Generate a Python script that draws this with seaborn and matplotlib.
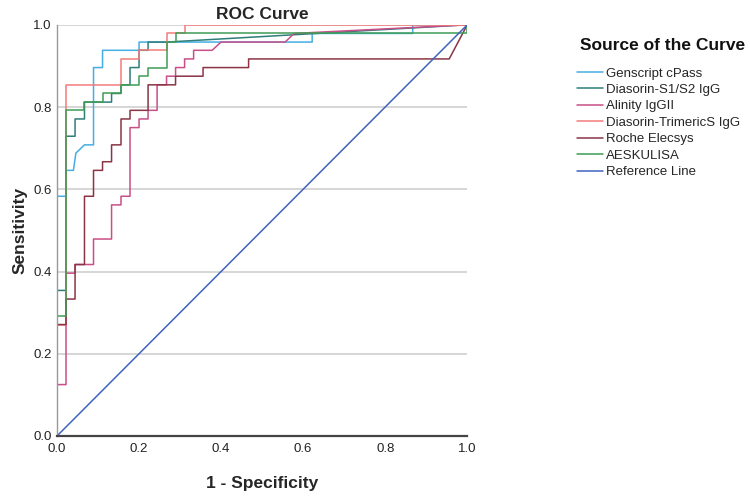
import matplotlib
matplotlib.use("Agg")
import matplotlib.pyplot as plt
import pandas as pd
import seaborn as sns

# ROC points (1 - specificity, sensitivity)
genscript_fpr = [0, 0, 0.022, 0.022, 0.04, 0.046, 0.067, 0.089, 0.089, 0.111, 0.111, 0.2, 0.2, 0.622, 0.622, 0.867, 0.867, 1]
genscript_tpr = [0, 0.583, 0.583, 0.646, 0.646, 0.688, 0.708, 0.708, 0.896, 0.896, 0.938, 0.938, 0.958, 0.958, 0.979, 0.979, 1, 1]

s1s2_fpr = [0, 0, 0.022, 0.022, 0.044, 0.044, 0.067, 0.067, 0.133, 0.133, 0.156, 0.156, 0.178, 0.178, 0.2, 0.2, 0.222, 0.222, 0.267, 1]
s1s2_tpr = [0, 0.354, 0.354, 0.729, 0.729, 0.771, 0.771, 0.812, 0.812, 0.833, 0.833, 0.854, 0.854, 0.896, 0.896, 0.938, 0.938, 0.958, 0.958, 1]

alinity_fpr = [0, 0, 0.022, 0.022, 0.044, 0.044, 0.089, 0.089, 0.133, 0.133, 0.156, 0.156, 0.178, 0.178, 0.2, 0.2,
               0.222, 0.222, 0.244, 0.244, 0.267, 0.267, 0.289, 0.289, 0.311, 0.311, 0.333, 0.333, 0.378, 0.4, 0.556, 0.578, 1]
alinity_tpr = [0, 0.125, 0.125, 0.396, 0.396, 0.417, 0.417, 0.479, 0.479, 0.562, 0.562, 0.583, 0.583, 0.75, 0.75, 0.771,
               0.771, 0.792, 0.792, 0.854, 0.854, 0.875, 0.875, 0.896, 0.896, 0.917, 0.917, 0.938, 0.938, 0.958, 0.958, 0.979, 1]

trimeric_fpr = [0, 0, 0.022, 0.022, 0.156, 0.156, 0.2, 0.2, 0.267, 0.267, 0.311, 0.311, 1]
trimeric_tpr = [0, 0.271, 0.271, 0.854, 0.854, 0.917, 0.917, 0.938, 0.938, 0.979, 0.979, 1, 1]

roche_fpr = [0, 0, 0.022, 0.022, 0.044, 0.044, 0.067, 0.067, 0.089, 0.089, 0.111, 0.111, 0.133, 0.133, 0.156, 0.156,
             0.178, 0.178, 0.222, 0.222, 0.289, 0.289, 0.356, 0.356, 0.467, 0.467, 0.956, 1]
roche_tpr = [0, 0.271, 0.271, 0.333, 0.333, 0.417, 0.417, 0.583, 0.583, 0.646, 0.646, 0.667, 0.667, 0.708, 0.708, 0.771,
             0.771, 0.792, 0.792, 0.854, 0.854, 0.875, 0.875, 0.896, 0.896, 0.917, 0.917, 1]

aesku_fpr = [0, 0, 0.022, 0.022, 0.067, 0.067, 0.111, 0.111, 0.156, 0.156, 0.2, 0.2, 0.222, 0.222, 0.267, 0.267, 0.289, 0.289, 1, 1]
aesku_tpr = [0, 0.292, 0.292, 0.792, 0.792, 0.812, 0.812, 0.833, 0.833, 0.854, 0.854, 0.875, 0.875, 0.896, 0.896, 0.958, 0.958, 0.979, 0.979, 1]

ref_fpr = [0, 1]
ref_tpr = [0, 1]

names = ["Genscript cPass", "Diasorin-S1/S2 IgG", "Alinity IgGII", "Diasorin-TrimericS IgG",
         "Roche Elecsys", "AESKULISA", "Reference Line"]
colors = ["#45aee3", "#2e7e7a", "#c84f88", "#f27b7b", "#8a3546", "#3f9d55", "#3f63bf"]

curves = [(genscript_fpr, genscript_tpr), (s1s2_fpr, s1s2_tpr), (alinity_fpr, alinity_tpr),
          (trimeric_fpr, trimeric_tpr), (roche_fpr, roche_tpr), (aesku_fpr, aesku_tpr), (ref_fpr, ref_tpr)]

frames = []
for name, (fx, ty) in zip(names, curves):
    frames.append(pd.DataFrame({"fpr": fx, "tpr": ty, "source": name}))
df = pd.concat(frames, ignore_index=True)

sns.set_style("white")
plt.rcParams["font.family"] = ["Liberation Sans", "DejaVu Sans"]

fig = plt.figure(figsize=(7.5, 4.96), dpi=100)
ax = fig.add_axes([0.076, 0.121, 0.547, 0.829])

for y in [0.2, 0.4, 0.6, 0.8, 1.0]:
    ax.axhline(y, color="#cccccc", lw=1.1, zorder=0)

sns.lineplot(data=df, x="fpr", y="tpr", hue="source", hue_order=names, palette=colors,
             sort=False, estimator=None, units="source", lw=1.1, ax=ax, legend=True)

ax.set_xlim(0, 1)
ax.set_ylim(0, 1)
ax.set_xticks([0, 0.2, 0.4, 0.6, 0.8, 1.0])
ax.set_yticks([0, 0.2, 0.4, 0.6, 0.8, 1.0])
ax.set_xticklabels(["0.0", "0.2", "0.4", "0.6", "0.8", "1.0"])
ax.set_yticklabels(["0.0", "0.2", "0.4", "0.6", "0.8", "1.0"])
ax.tick_params(length=0, labelsize=9.5, colors="#222222")
ax.tick_params(axis="x", pad=5)
ax.tick_params(axis="y", pad=4)
for s in ["top", "right"]:
    ax.spines[s].set_visible(False)
ax.spines["left"].set_color("#999999")
ax.spines["left"].set_linewidth(1.0)
ax.spines["bottom"].set_color("#444444")
ax.spines["bottom"].set_linewidth(1.6)

ax.set_xlabel("1 - Specificity", fontsize=12.5, fontweight="bold", labelpad=15)
ax.set_ylabel("Sensitivity", fontsize=12.5, fontweight="bold", labelpad=4)
ax.set_title("ROC Curve", fontsize=12.5, fontweight="bold", pad=4)

handles, labels = ax.get_legend_handles_labels()
ax.get_legend().remove()
fig.text(0.773, 1 - 46 / 496, "Source of the Curve", fontsize=12.5, fontweight="bold",
         ha="left", va="center", color="#111111")
leg = fig.legend(handles, labels, loc="upper left", bbox_to_anchor=(0.762, 0.875), frameon=False,
                 fontsize=9.5, handlelength=2.0, handletextpad=0.2,
                 labelspacing=0.32, borderaxespad=0)

fig.savefig("out.png", dpi=100)
